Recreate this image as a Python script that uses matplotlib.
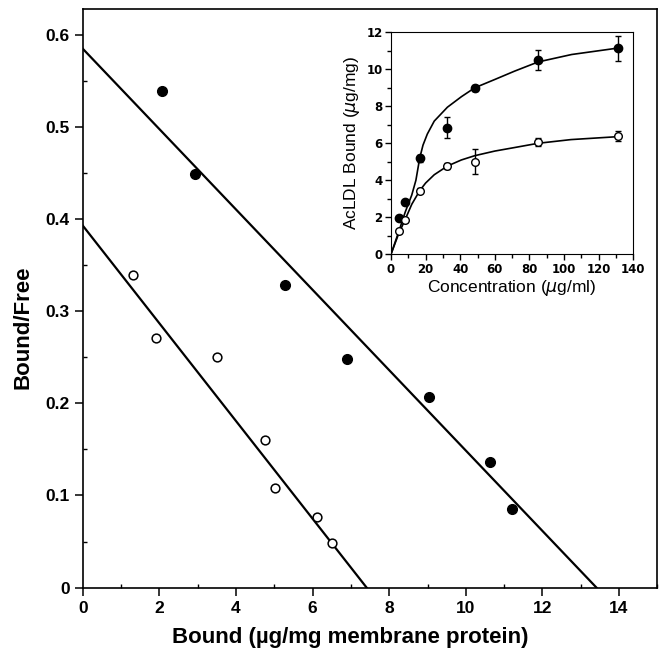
import matplotlib
matplotlib.use("Agg")
import matplotlib.pyplot as plt
from matplotlib.ticker import MultipleLocator, FuncFormatter

# Scatchard plot (main panel)
bound_filled = [2.08, 2.94, 5.27, 6.89, 9.05, 10.62, 11.21]
bf_filled = [0.539, 0.449, 0.329, 0.248, 0.207, 0.136, 0.085]
bound_open = [1.32, 1.92, 3.51, 4.77, 5.02, 6.11, 6.50]
bf_open = [0.339, 0.271, 0.250, 0.160, 0.108, 0.077, 0.048]
# regression lines: (x, y) end points
line_filled_x = [0.0, 13.41]
line_filled_y = [0.585, 0.0]
line_open_x = [0.0, 7.41]
line_open_y = [0.393, 0.0]

# saturation curves (inset)
conc = [4.4, 8.3, 16.6, 32.6, 48.4, 85.1, 131.3]
acldl_filled = [1.95, 2.8, 5.19, 6.85, 9.0, 10.5, 11.13]
err_filled = [0.1, 0.15, 0.2, 0.56, 0.15, 0.55, 0.68]
acldl_open = [1.26, 1.86, 3.44, 4.77, 5.0, 6.05, 6.4]
err_open = [0.1, 0.1, 0.15, 0.18, 0.68, 0.22, 0.25]
fit_x_filled = [0, 4.4, 8.3, 12, 14.4, 16.6, 18.5, 21, 25, 32.6, 40.7, 48.4, 60, 71.4, 85.1, 104.4, 131.3]
fit_y_filled = [0, 1.2, 2.3, 3.2, 4.0, 5.2, 5.9, 6.5, 7.2, 7.95, 8.52, 9.0, 9.45, 9.9, 10.4, 10.8, 11.15]
fit_x_open = [0, 4.4, 8.3, 12, 16.6, 20, 25, 32.6, 40.7, 48.4, 60, 71.4, 85, 104, 131.3]
fit_y_open = [0, 1.1, 1.9, 2.7, 3.44, 3.85, 4.3, 4.77, 5.1, 5.33, 5.58, 5.77, 6.0, 6.2, 6.36]

SANS = ["Liberation Sans", "DejaVu Sans"]

fig = plt.figure(figsize=(6.62, 6.5), dpi=100)
ax = fig.add_axes([0.125, 0.096, 0.868, 0.890])

ax.plot(line_filled_x, line_filled_y, color="black", lw=1.6)
ax.plot(line_open_x, line_open_y, color="black", lw=1.6)
ax.plot(bound_filled, bf_filled, "o", color="black", ms=7.0)
ax.plot(bound_open, bf_open, "o", mfc="white", mec="black", mew=1.1, ms=6.3)

ax.set_xlim(0, 15)
ax.set_ylim(0, 0.628)
ax.xaxis.set_major_locator(MultipleLocator(2))
ax.xaxis.set_minor_locator(MultipleLocator(1))
ax.yaxis.set_major_locator(MultipleLocator(0.1))
ax.yaxis.set_minor_locator(MultipleLocator(0.05))
ax.yaxis.set_major_formatter(FuncFormatter(lambda v, p: "0" if abs(v) < 1e-9 else f"{v:.1f}"))
ax.tick_params(which="major", direction="out", length=6, width=1.1)
ax.tick_params(which="minor", direction="in", length=3, width=1.0)
for lab in ax.get_xticklabels() + ax.get_yticklabels():
    lab.set_family(SANS)
    lab.set_fontweight("bold")
    lab.set_fontsize(12.5)
ax.set_xlabel("Bound (µg/mg membrane protein)", family=SANS, fontweight="bold",
              fontsize=16, labelpad=3)
ax.xaxis.set_label_coords(0.465, -0.068)
ax.set_ylabel("Bound/Free", family=SANS, fontweight="bold", fontsize=16, labelpad=12)
ax.yaxis.set_label_coords(-0.085, 0.45)
for sp in ax.spines.values():
    sp.set_linewidth(1.2)

# inset
ins = fig.add_axes([0.5906, 0.6088, 0.366, 0.3415])
ins.plot(fit_x_filled, fit_y_filled, color="black", lw=1.2)
ins.plot(fit_x_open, fit_y_open, color="black", lw=1.2)
ins.errorbar(conc, acldl_filled, yerr=err_filled, fmt="o", color="black", ms=6,
             capsize=2.5, elinewidth=1.0, capthick=1.0)
ins.errorbar(conc, acldl_open, yerr=err_open, fmt="o", mfc="white", mec="black",
             ecolor="black", mew=1.0, ms=5.5, capsize=2.5, elinewidth=1.0, capthick=1.0)
ins.set_xlim(0, 140)
ins.set_ylim(0, 12)
ins.xaxis.set_major_locator(MultipleLocator(20))
ins.xaxis.set_minor_locator(MultipleLocator(10))
ins.yaxis.set_major_locator(MultipleLocator(2))
ins.yaxis.set_minor_locator(MultipleLocator(1))
ins.tick_params(which="major", direction="out", length=4, width=1.0, pad=2)
ins.tick_params(which="minor", direction="out", length=3, width=1.0)
for lab in ins.get_xticklabels() + ins.get_yticklabels():
    lab.set_fontweight("bold")
    lab.set_fontsize(8.5)
ins.set_xlabel("Concentration ($\\mu$g/ml)", family="Liberation Sans", fontsize=12.5, labelpad=2)
ins.set_ylabel("AcLDL Bound ($\\mu$g/mg)", family="Liberation Sans", fontsize=12.5, labelpad=3)

fig.savefig("out.png", dpi=100)
